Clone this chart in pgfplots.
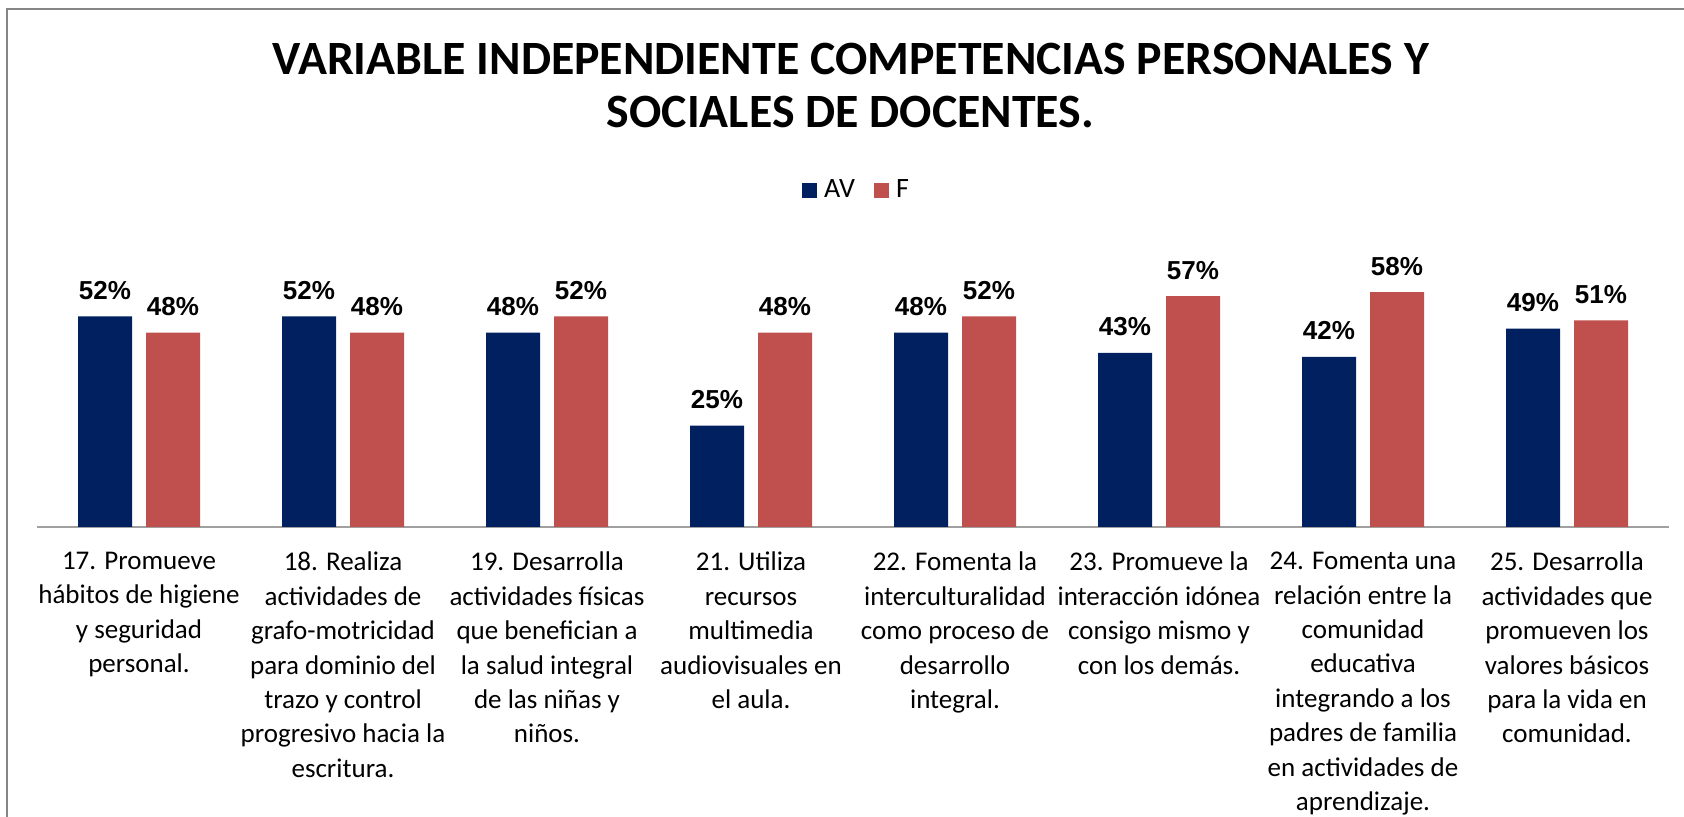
\documentclass[border=0pt]{standalone}
\usepackage{pgfplots}
\pgfplotsset{compat=1.18}
\usepackage{fontspec}
\setmainfont{Carlito}
\newfontfamily\arialfont{Liberation Sans}
\definecolor{avblue}{HTML}{002060}
\definecolor{fred}{HTML}{C0504D}
\definecolor{framegray}{HTML}{868686}
\definecolor{axisgray}{HTML}{A0A0A0}
\begin{document}
\begin{tikzpicture}
\useasboundingbox (0pt,0pt) rectangle (842pt,408.5pt);
\draw[framegray, line width=1pt] (3.5pt,-10pt) -- (3.5pt,404pt) -- (860pt,404pt);
\node[font=\bfseries\fontsize{23.9}{28}\selectfont, anchor=base, inner sep=0pt] at (425.25pt,371pt) {VARIABLE INDEPENDIENTE COMPETENCIAS PERSONALES Y};
\node[font=\bfseries\fontsize{23.9}{28}\selectfont, anchor=base, inner sep=0pt] at (425.25pt,344.5pt) {SOCIALES DE DOCENTES.};
\begin{axis}[
  at={(18.5pt,145pt)}, anchor=south west,
  scale only axis, width=816pt, height=121.5pt,
  ymin=0, ymax=60, xmin=-0.5, xmax=7.5,
  ybar=7pt, bar width=27pt,
  axis x line*=bottom, axis y line=none,
  x axis line style={draw=axisgray, line width=1pt},
  xtick={0,...,7},
  xticklabels={
    {17. Promueve\\hábitos de higiene\\y seguridad\\personal.},
    {18. Realiza\\actividades de\\grafo-motricidad\\para dominio del\\trazo y control\\progresivo hacia la\\escritura.},
    {19. Desarrolla\\actividades físicas\\que benefician a\\la salud integral\\de las niñas y\\niños.},
    {21. Utiliza\\recursos\\multimedia\\audiovisuales en\\el aula.},
    {22. Fomenta la\\interculturalidad\\como proceso de\\desarrollo\\integral.},
    {23. Promueve la\\interacción idónea\\consigo mismo y\\con los demás.},
    {24. Fomenta una\\relación entre la\\comunidad\\educativa\\integrando a los\\padres de familia\\en actividades de\\aprendizaje.},
    {25. Desarrolla\\actividades que\\promueven los\\valores básicos\\para la vida en\\comunidad.}},
  major tick length=0pt,
  xticklabel style={font=\fontsize{13.5}{17.2}\selectfont, align=center, anchor=north, yshift=-12.35pt, inner sep=0pt, text=black, execute at begin node=\strut},
  /pgf/number format/assume math mode=true,
  nodes near coords={\pgfmathprintnumber[fixed,precision=0]{\pgfplotspointmeta}\%},
  every node near coord/.append style={font=\arialfont\bfseries\fontsize{13}{15}\selectfont, anchor=base, yshift=8.5pt, inner sep=0pt, text=black},
  legend columns=2,
  legend style={at={(0.5028,1.385)}, anchor=center, draw=none, fill=none, font=\fontsize{14}{16}\selectfont, inner sep=0pt,
    /tikz/every even column/.append style={column sep=7.5pt},
    /tikz/every odd column/.append style={column sep=1.5pt}},
  legend image code/.code={\draw[#1,draw=none] (0pt,-3.75pt) rectangle (7.5pt,3.75pt);},
]
\addplot[fill=avblue, draw=none] coordinates {(0,52) (1,52) (2,48) (3,25) (4,48) (5,43) (6,42) (7,49)};
\addplot[fill=fred, draw=none] coordinates {(0,48) (1,48) (2,52) (3,48) (4,52) (5,57) (6,58) (7,51)};
\legend{AV, F}
\end{axis}
\end{tikzpicture}
\end{document}
